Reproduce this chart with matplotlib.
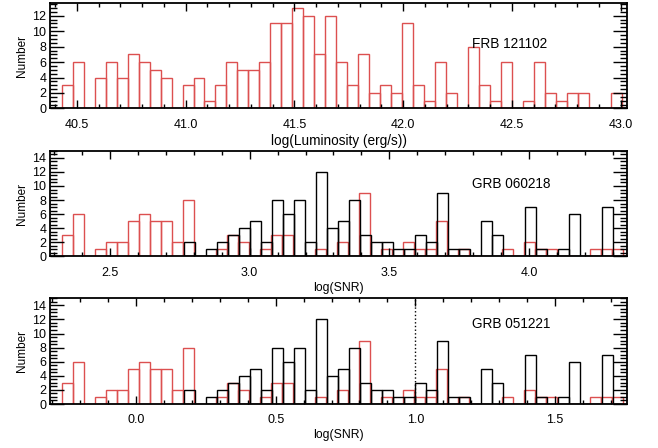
import numpy as np
import matplotlib
matplotlib.use('Agg')
import matplotlib.pyplot as plt
from matplotlib.ticker import MultipleLocator, FormatStrFormatter

plt.rcParams['font.family'] = ['Liberation Sans', 'DejaVu Sans']

## FRB 121102 luminosity histogram (counts per bin)
frb_counts = [3, 6, 0, 4, 6, 4, 7, 6, 5, 4, 0, 3, 4, 1, 3, 6, 5, 5, 6, 11,
              11, 13, 12, 7, 12, 6, 3, 7, 2, 3, 2, 11, 3, 1, 6, 2, 0, 8, 3, 1,
              6, 0, 1, 6, 2, 1, 2, 2, 0, 0, 2]
frb_start = 40.43
frb_width = 0.0505

## SNR histograms (red = FRB, black = GRB)
red_counts = [3, 6, 0, 1, 2, 2, 5, 6, 5, 5, 2, 8, 0, 0, 1, 3, 2, 0, 1, 3,
              3, 0, 0, 1, 0, 2, 0, 9, 0, 1, 0, 2, 1, 1, 5, 0, 1, 0, 0, 0,
              1, 0, 2, 1, 1, 0, 0, 0, 1, 1, 1]
black_counts = [2, 0, 1, 2, 3, 4, 5, 2, 8, 6, 8, 2, 12, 4, 5, 8, 3, 2, 2, 1,
                1, 3, 2, 9, 1, 1, 0, 5, 3, 0, 0, 7, 1, 0, 1, 6, 0, 0, 7, 0]
snr_width = 0.0394
red_start_060218 = 2.327
black_start_060218 = 2.765
shift_051221 = 2.593

RED = '#dc5050'


def histBars(ax, counts, start, width, color):
    edges = start + width*np.arange(len(counts))
    ax.bar(edges, counts, width=width, align='edge', fill=False,
           edgecolor=color, linewidth=1.0)


def styleAxis(ax, xlim, ylim, xlabel, xlabel_size):
    ax.set_xlim(xlim)
    ax.set_ylim(ylim)
    ax.xaxis.set_major_locator(MultipleLocator(0.5))
    ax.xaxis.set_minor_locator(MultipleLocator(0.1))
    ax.xaxis.set_major_formatter(FormatStrFormatter('%.1f'))
    ax.yaxis.set_major_locator(MultipleLocator(2))
    ax.yaxis.set_minor_locator(MultipleLocator(0.5))
    ax.tick_params(axis='both', which='both', direction='in',
                   top=True, right=True, labelsize=9, width=1.0)
    ax.tick_params(axis='x', which='major', length=6, pad=7.5)
    ax.tick_params(axis='x', which='minor', length=3)
    ax.tick_params(axis='y', which='major', length=10, pad=2.5)
    ax.tick_params(axis='y', which='minor', length=5)
    for sp in ax.spines.values():
        sp.set_linewidth(1.3)
    ax.set_xlabel(xlabel, size=xlabel_size, labelpad=2)
    ax.set_ylabel('Number', size=8.5, labelpad=3)


fig = plt.figure(figsize=(6.58, 4.48), dpi=100)
ax1 = fig.add_axes([0.076, 0.758, 0.877, 0.2344])
ax2 = fig.add_axes([0.076, 0.4275, 0.877, 0.236])
ax3 = fig.add_axes([0.076, 0.0982, 0.877, 0.236])

histBars(ax1, frb_counts, frb_start, frb_width, RED)
styleAxis(ax1, (40.376, 43.03), (0, 13.6), 'log(Luminosity (erg/s))', 9.8)
ax1.text(0.731, 0.61, 'FRB 121102', transform=ax1.transAxes, size=9.8,
         ha='left', va='center')

histBars(ax2, red_counts, red_start_060218, snr_width, RED)
histBars(ax2, black_counts, black_start_060218, snr_width, 'k')
styleAxis(ax2, (2.2853, 4.351), (0, 15), 'log(SNR)', 8.8)
ax2.text(0.731, 0.682, 'GRB 060218', transform=ax2.transAxes, size=9.8,
         ha='left', va='center')

histBars(ax3, red_counts, red_start_060218 - shift_051221, snr_width, RED)
histBars(ax3, black_counts, black_start_060218 - shift_051221, snr_width, 'k')
styleAxis(ax3, (2.2853 - shift_051221, 4.351 - shift_051221), (0, 15),
          'log(SNR)', 8.8)
ax3.axvline(1.0, color='k', linestyle=':', linewidth=1.0)
ax3.text(0.731, 0.757, 'GRB 051221', transform=ax3.transAxes, size=9.8,
         ha='left', va='center')

fig.savefig('out.png', dpi=100)
plt.close()
